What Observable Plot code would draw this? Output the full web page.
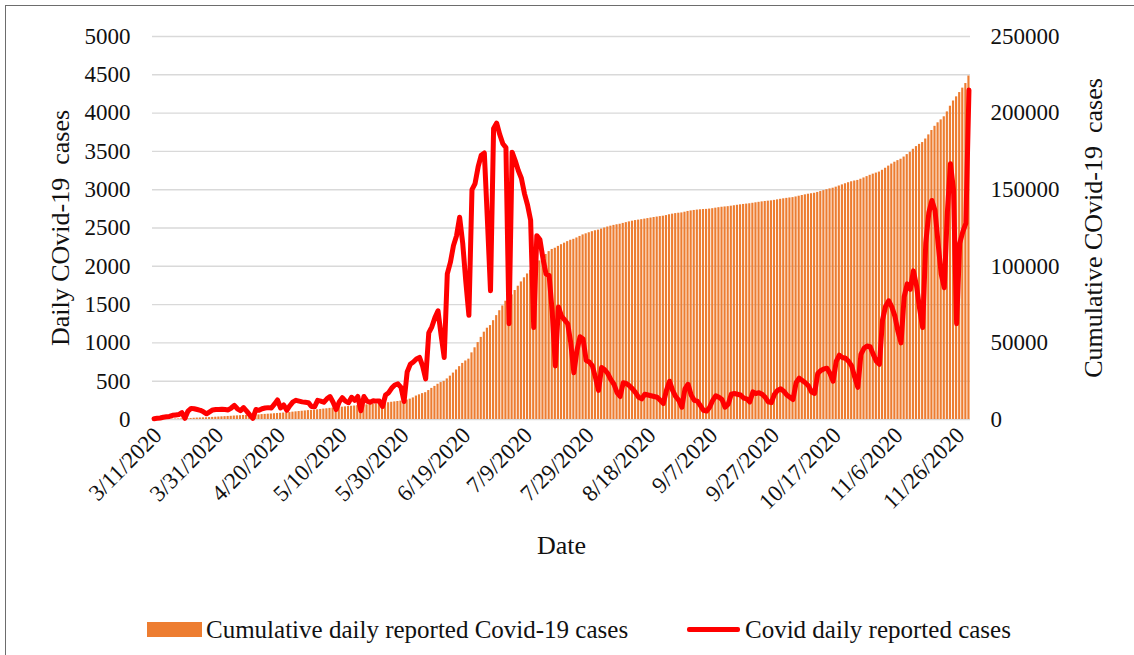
<!DOCTYPE html>
<html>
<head>
<meta charset="utf-8">
<script src="https://cdn.jsdelivr.net/npm/d3@7"></script>
<script src="https://cdn.jsdelivr.net/npm/@observablehq/plot@0.6"></script>
<style>
  body { margin: 0; background: #fff; }
  #wrap { position: relative; width: 1134px; height: 655px; overflow: hidden;
          font-family: "Liberation Serif", "Times New Roman", serif; color: #111; background: #fff; }
  #frame { position: absolute; left: 5px; top: 5px; width: 1200px; height: 700px;
           border-left: 1.5px solid #6d6d6d; border-top: 1.5px solid #6d6d6d; }
  #chart { position: absolute; left: 0; top: 0; }
  .lg { position: absolute; font-size: 25px; line-height: 25px; white-space: nowrap; }
  .sw { position: absolute; }
</style>
</head>
<body>
<div id="wrap">
  <div id="frame"></div>
  <div id="chart"></div>
  <div class="sw" style="left:147px;top:622px;width:55px;height:15px;background:#ED7D31;"></div>
  <div class="lg" id="lg1" style="left:206px;top:617px;"></div>
  <div class="sw" style="left:687px;top:627px;width:53px;height:5px;background:#FF0000;border-radius:2px;"></div>
  <div class="lg" id="lg2" style="left:745px;top:617px;"></div>
</div>
<script>
// ---- data ----
const startDate = "2020-03-11";
const endDateExclusive = "2020-12-01";

const dailyCases = [
  10, 15, 20, 30, 35, 40, 55, 60, 65, 90,
  15, 110, 145, 140, 130, 120, 100, 75, 100, 125,
  130, 130, 135, 130, 125, 150, 185, 140, 115, 155,
  110, 60, 15, 130, 120, 140, 150, 155, 150, 200,
  255, 150, 190, 120, 180, 230, 250, 240, 230, 225,
  220, 170, 165, 250, 240, 225, 270, 300, 225, 130,
  230, 285, 240, 220, 290, 250, 300, 115, 300, 240,
  225, 245, 240, 240, 170, 320, 350, 410, 450, 465,
  420, 235, 620, 720, 750, 790, 810, 700, 530, 1130,
  1210, 1330, 1420, 1100, 810, 1900, 2050, 2270, 2400, 2640,
  2300, 1800, 1360, 3000, 3080, 3300, 3450, 3480, 2600, 1680,
  3800, 3870, 3720, 3600, 3550, 1250, 3490, 3380, 3250, 3150,
  2950, 2800, 2600, 1200, 2400, 2350, 2100, 1900, 1880, 1400,
  700, 1470, 1350, 1300, 1250, 1000, 610, 900, 1080, 1050,
  770, 750, 700, 550, 380, 680, 650, 600, 520, 460,
  350, 300, 480, 470, 440, 400, 350, 290, 270, 330,
  320, 310, 300, 290, 250, 210, 380, 500, 380, 300,
  250, 160, 400, 460, 320, 250, 240, 180, 120, 110,
  160, 250, 310, 290, 260, 160, 200, 330, 340, 330,
  320, 280, 270, 230, 360, 340, 350, 330, 290, 230,
  220, 330, 380, 400, 370, 320, 290, 260, 480, 540,
  510, 480, 440, 360, 340, 600, 640, 660, 670, 600,
  500, 760, 840, 810, 800, 760, 700, 550, 420, 850,
  930, 960, 950, 850, 760, 720, 1300, 1480, 1550, 1470,
  1350, 1150, 1000, 1600, 1770, 1700, 1940, 1750, 1450, 1200,
  2300, 2700, 2860, 2730, 2300, 1900, 1720, 2700, 3340, 3000,
  1250, 2300, 2450, 2560, 4300
];

const cumulativeCases = [
  10, 25, 45, 75, 110, 150, 205, 265, 330, 420,
  430, 540, 680, 820, 940, 1000, 1080, 1150, 1250, 1370,
  1500, 1620, 1740, 1860, 1980, 2100, 2260, 2380, 2480, 2620,
  2700, 2750, 2770, 2880, 3000, 3200, 3330, 3460, 3600, 3760,
  3900, 4050, 4220, 4330, 4500, 4800, 5000, 5200, 5400, 5600,
  5800, 5950, 6100, 6320, 6540, 6800, 7000, 7250, 7450, 7580,
  7800, 8050, 8250, 8450, 8650, 8800, 9050, 9150, 9400, 9600,
  9800, 10000, 10200, 10400, 10550, 10700, 10950, 11250, 11500, 11750,
  12000, 12200, 12700, 13300, 14100, 15300, 16100, 16900, 17500, 18900,
  20300, 21600, 23000, 24100, 24900, 26500, 28300, 30300, 32300, 34500,
  36600, 38200, 39400, 43500, 46800, 50200, 53600, 57000, 59600, 61300,
  64500, 67800, 71000, 74100, 77200, 78300, 81300, 84200, 87000, 89800,
  92500, 95000, 97300, 98400, 101000, 103500, 105700, 107700, 109600, 111000,
  111800, 113000, 114100, 115100, 116100, 117000, 117600, 118500, 119500, 120500,
  121200, 121900, 122600, 123200, 123600, 124300, 125000, 125650, 126200, 126700,
  127100, 127450, 128000, 128500, 129000, 129450, 129850, 130150, 130450, 130800,
  131150, 131500, 131850, 132150, 132450, 132700, 133100, 133650, 134050, 134400,
  134650, 134850, 135300, 135800, 136150, 136450, 136700, 136900, 137050, 137150,
  137350, 137600, 137950, 138250, 138550, 138750, 138930, 139230, 139530, 139830,
  140120, 140370, 140610, 140820, 141140, 141450, 141760, 142060, 142320, 142530,
  142730, 143030, 143370, 143730, 144060, 144350, 144610, 144840, 145270, 145760,
  146220, 146650, 147050, 147370, 147680, 148220, 148800, 149390, 149990, 150530,
  150980, 151660, 152420, 153150, 153870, 154550, 155180, 155680, 156060, 156830,
  157670, 158540, 159400, 160160, 160850, 161500, 162670, 164000, 165400, 166720,
  167940, 168980, 169880, 171320, 172910, 174440, 176380, 178130, 179580, 180780,
  183080, 185780, 188640, 191370, 193670, 195570, 197600, 200800, 204500, 207900,
  210600, 213400, 216300, 219300, 224200
];

const xTickLabels = ["3/11/2020", "3/31/2020", "4/20/2020", "5/10/2020", "5/30/2020",
  "6/19/2020", "7/9/2020", "7/29/2020", "8/18/2020", "9/7/2020", "9/27/2020",
  "10/17/2020", "11/6/2020", "11/26/2020"];
const leftTicks = [0, 500, 1000, 1500, 2000, 2500, 3000, 3500, 4000, 4500, 5000];
const rightTickPositions = [0, 1000, 2000, 3000, 4000, 5000];
const rightTicks = [0, 50000, 100000, 150000, 200000, 250000];

const leftTitle = "Daily COvid-19\u00a0 cases";
const rightTitle = "Cumulative COvid-19\u00a0 cases";
const xTitle = "Date";
const legendCum = "Cumulative daily reported Covid-19 cases";
const legendDaily = "Covid daily reported cases";

// ---- build ----
const fmt = d3.utcFormat("%-m/%-d/%Y");
const days = d3.utcDay.range(new Date(startDate + "T00:00Z"), new Date(endDateExclusive + "T00:00Z"));
const labels = days.map(fmt);
const rows = labels.map((l, i) => ({ date: l, daily: dailyCases[i], cum: cumulativeCases[i] }));

const leftMax = 5000, rightMax = 250000;
const k = rightMax / leftMax; // right axis maps onto the same vertical range

const chart = Plot.plot({
  width: 1134,
  height: 600,
  marginLeft: 152,
  marginRight: 164,
  marginTop: 36,
  marginBottom: 181,
  style: { fontFamily: "'Liberation Serif', 'Times New Roman', serif", fontSize: "23px", color: "#111", background: "transparent", overflow: "visible" },
  x: { type: "band", domain: labels, paddingInner: 0.3, paddingOuter: 0.15, round: false, axis: null },
  y: { domain: [0, leftMax], axis: null },
  marks: [
    Plot.ruleY(leftTicks, { stroke: "#d9d9d9", strokeWidth: 1.4 }),
    Plot.barY(rows, { x: "date", y: d => d.cum / k, fill: "#ED7D31" }),
    Plot.lineY(rows, { x: "date", y: "daily", stroke: "#FF0000", strokeWidth: 5, strokeLinejoin: "round", strokeLinecap: "round" }),
    Plot.axisY({ anchor: "left", ticks: leftTicks, tickSize: 0, tickPadding: 22, label: null, fontSize: 23, tickFormat: t => String(t) }),
    Plot.axisY({ anchor: "right", ticks: rightTickPositions, tickSize: 0, tickPadding: 20, label: null, fontSize: 23,
                 tickFormat: t => String(rightTicks[rightTickPositions.indexOf(t)]) }),
    Plot.axisX({ ticks: xTickLabels, tickRotate: -45, tickSize: 0, tickPadding: 12, dx: 4, label: null, fontSize: 23 }),
    Plot.text([xTitle], { frameAnchor: "bottom", dy: 134, fontSize: 26, fill: "#111" }),
    Plot.text([leftTitle], { frameAnchor: "left", dx: -92, rotate: -90, textAnchor: "middle", fontSize: 26, fill: "#111", letterSpacing: "1px" }),
    Plot.text([rightTitle], { frameAnchor: "right", dx: 123, rotate: -90, textAnchor: "middle", fontSize: 26, fill: "#111", letterSpacing: "1.2px" })
  ]
});
document.getElementById("chart").appendChild(chart);
document.getElementById("lg1").textContent = legendCum;
document.getElementById("lg2").textContent = legendDaily;
</script>
</body>
</html>
